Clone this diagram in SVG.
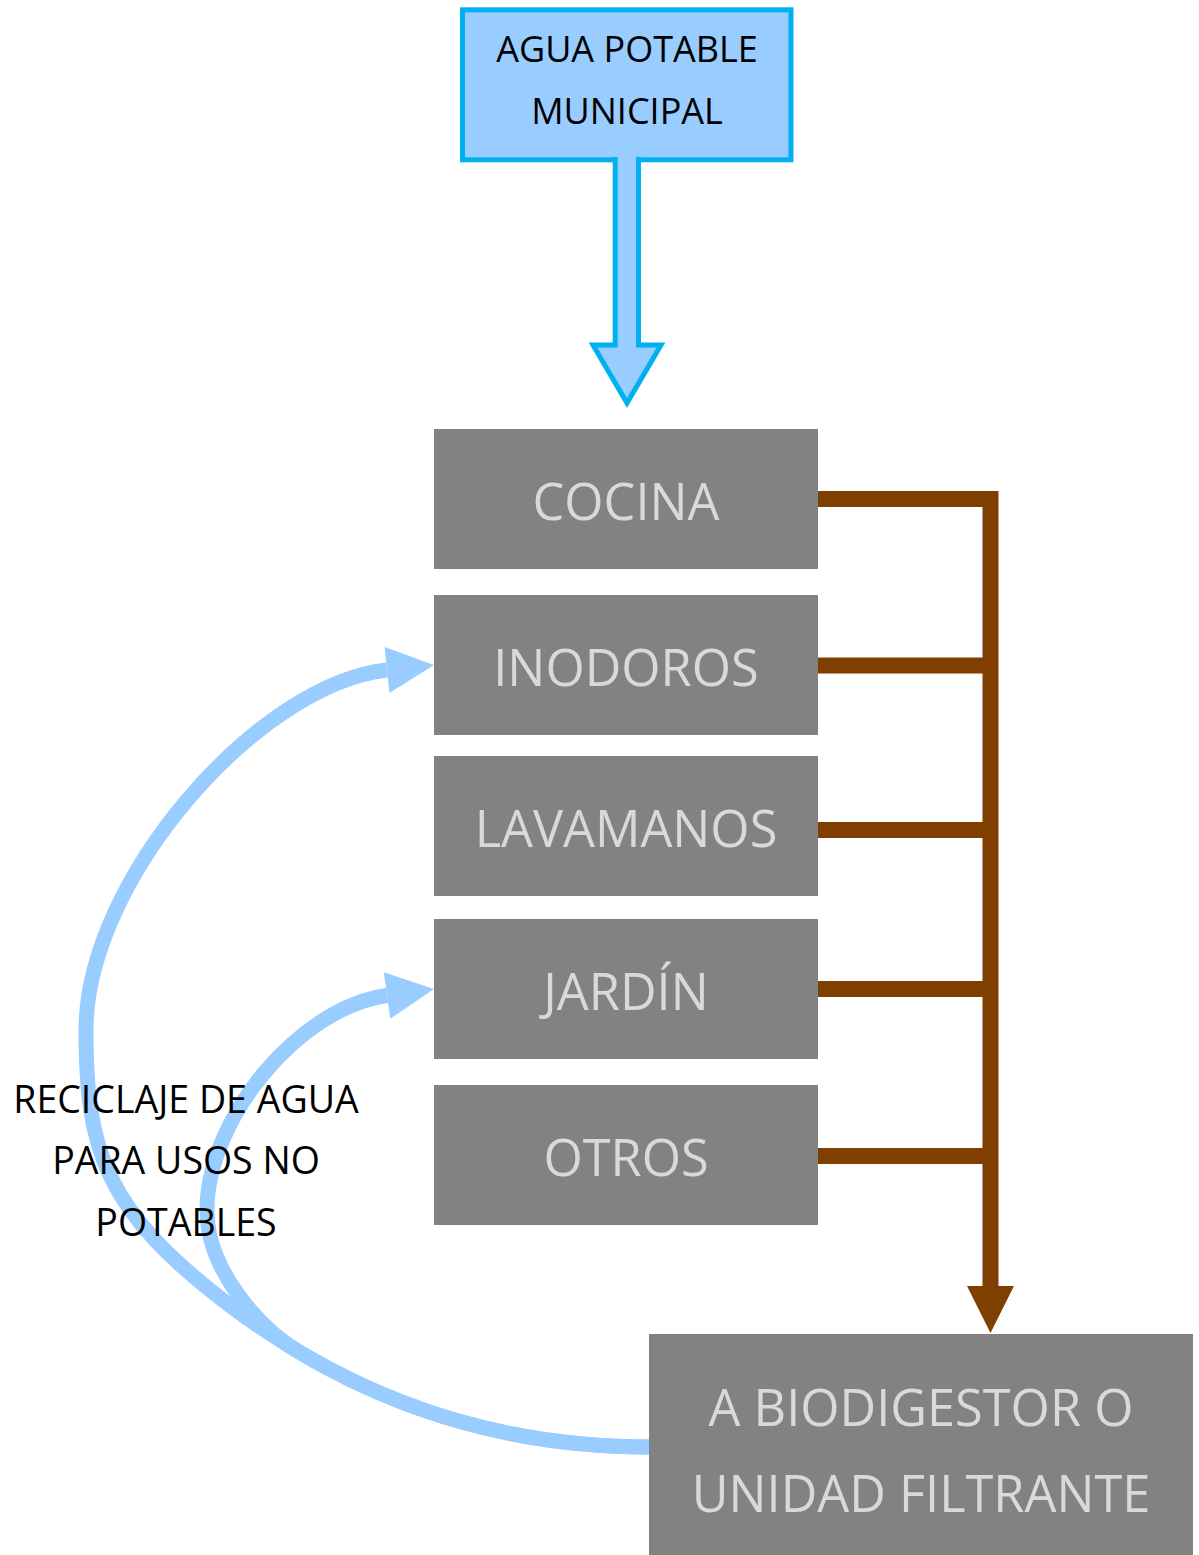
<svg xmlns="http://www.w3.org/2000/svg" width="1199" height="1555" viewBox="0 0 1199 1555">
<style>
.box{fill:#828282}
.bt{font-family:'Open Sans','Noto Sans',sans-serif;font-size:50.5px;fill:#D9D9D9;text-anchor:middle}
.src{fill:#99CCFF;stroke:#00B0F0;stroke-width:5;stroke-linejoin:miter}
.st{font-family:'Open Sans','Noto Sans',sans-serif;font-size:36px;fill:#000000;text-anchor:middle}
.lbl{font-size:37.5px}
.brown{fill:none;stroke:#7F3F00;stroke-width:16;stroke-linejoin:miter}
.bhead{fill:#7F3F00}
.blue{fill:none;stroke:#99CCFF;stroke-width:15}
.bluehead{fill:#99CCFF}
</style>
<rect x="0" y="0" width="1199" height="1555" fill="#FFFFFF"/>
<g id="node-agua-potable">
<rect class="src" x="462.5" y="9.8" width="328.5" height="150"/>
<text class="st" x="627" y="62">AGUA POTABLE</text>
<text class="st" x="627" y="124">MUNICIPAL</text>
</g>
<g id="node-cocina">
<rect class="box" x="434" y="429" width="384" height="140"/>
<text class="bt" x="626" y="520">COCINA</text>
</g>
<g id="node-inodoros">
<rect class="box" x="434" y="595" width="384" height="140"/>
<text class="bt" x="626" y="686">INODOROS</text>
</g>
<g id="node-lavamanos">
<rect class="box" x="434" y="756" width="384" height="140"/>
<text class="bt" x="626" y="847">LAVAMANOS</text>
</g>
<g id="node-jardin">
<rect class="box" x="434" y="919" width="384" height="140"/>
<text class="bt" x="626" y="1010">JARDÍN</text>
</g>
<g id="node-otros">
<rect class="box" x="434" y="1085" width="384" height="140"/>
<text class="bt" x="626" y="1176">OTROS</text>
</g>
<g id="node-biodigestor">
<rect class="box" x="649" y="1334" width="544" height="221"/>
<text class="bt" x="921" y="1426">A BIODIGESTOR O</text>
<text class="bt" x="921" y="1512">UNIDAD FILTRANTE</text>
</g>
<g id="connectors">
<path class="src" d="M615.2,157 V345 H593 L627,403 L661,345 H638.5 V157"/>
<path class="brown" d="M818,499 H990.5 V1288"/>
<path class="brown" d="M818,665.5 H990.5 M818,830 H990.5 M818,989 H990.5 M818,1156 H990.5"/>
<polygon class="bhead" points="967,1286 1014,1286 990.5,1333"/>
<path class="blue" d="M649,1447 C479,1447 344,1391 232,1307 C104,1211 86,1150 86,1030 C86,880 258,684 387,670"/>
<polygon class="bluehead" points="434,665 384.6,647.1 389.4,692.9"/>
<path class="blue" d="M649,1447 C513,1447 399.4,1411.2 302,1353.8 C258.9,1328.6 207,1270 207,1210 C207,1120 298,1007.8 387,995.5"/>
<polygon class="bluehead" points="434,989 383.8,972.2 390.2,1018.8"/>
</g>
<g id="label-reciclaje">
<text class="st lbl" x="186" y="1113">RECICLAJE DE AGUA</text>
<text class="st lbl" x="186" y="1174">PARA USOS NO</text>
<text class="st lbl" x="186" y="1236">POTABLES</text>
</g>
</svg>
